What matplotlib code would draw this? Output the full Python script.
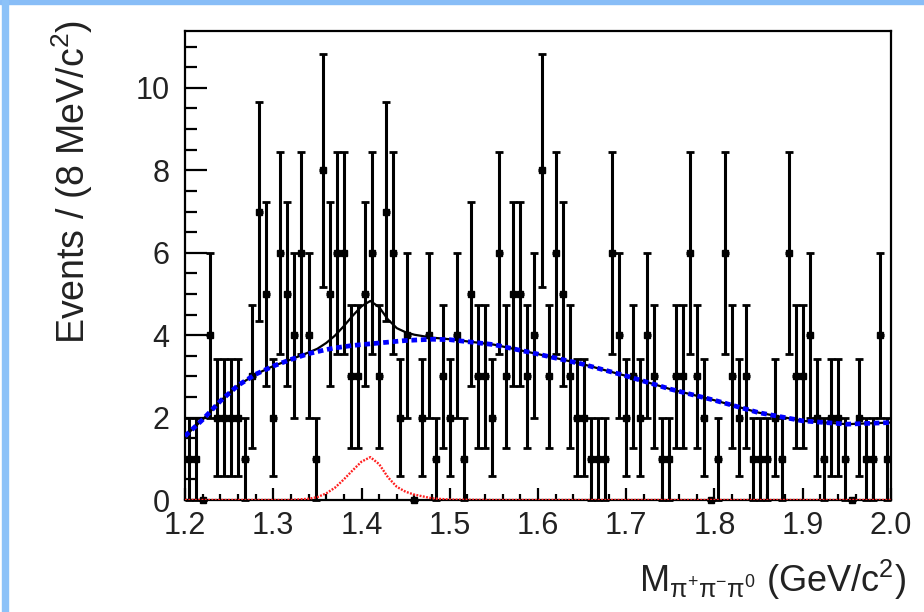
import numpy as np
import matplotlib
matplotlib.use("Agg")
import matplotlib.pyplot as plt
from matplotlib.patches import Rectangle

plt.rcParams["font.family"] = ["Liberation Sans", "DejaVu Sans"]
plt.rcParams["mathtext.fontset"] = "custom"
plt.rcParams["mathtext.rm"] = "Liberation Sans"
plt.rcParams["mathtext.it"] = "Liberation Sans:italic"
plt.rcParams["mathtext.default"] = "regular"

# Histogramme: 100 bins de 8 MeV entre 1.2 et 2.0 GeV
m_min = 1.2
bin_w = 0.008
counts = [
    1, 1, 0, 4, 2, 2, 2, 2, 1, 3,
    7, 5, 2, 6, 5, 4, 6, 4, 1, 8,
    5, 6, 6, 3, 3, 5, 6, 3, 7, 6,
    2, 4, 0, 2, 4, 1, 3, 2, 4, 1,
    5, 3, 3, 2, 6, 3, 5, 5, 3, 4,
    8, 3, 6, 5, 3, 2, 2, 1, 1, 1,
    6, 4, 2, 3, 2, 4, 3, 1, 1, 3,
    3, 6, 3, 2, 0, 1, 6, 3, 2, 3,
    1, 1, 1, 2, 1, 6, 3, 3, 4, 2,
    1, 2, 2, 1, 0, 2, 1, 1, 4, 1,
]

# Courbes de l'ajustement
fit_mass = [1.20, 1.22, 1.24, 1.26, 1.28, 1.30, 1.32, 1.34, 1.35, 1.36,
            1.37, 1.38, 1.39, 1.40, 1.41, 1.42, 1.43, 1.44, 1.45, 1.46,
            1.48, 1.50, 1.55, 1.60, 1.65, 1.70, 1.75, 1.80, 1.85, 1.90,
            1.95, 2.00]
background = [1.55, 1.95, 2.40, 2.78, 3.05, 3.25, 3.41, 3.55, 3.60, 3.65,
              3.69, 3.72, 3.75, 3.77, 3.79, 3.81, 3.83, 3.85, 3.87, 3.88,
              3.90, 3.89, 3.77, 3.54, 3.30, 3.01, 2.69, 2.42, 2.12, 1.92,
              1.84, 1.88]
signal = [0.0, 0.0, 0.0, 0.0, 0.0, 0.0, 0.0, 0.03, 0.07, 0.16,
          0.30, 0.50, 0.72, 0.93, 1.04, 0.87, 0.55, 0.32, 0.20, 0.13,
          0.04, 0.01, 0.0, 0.0, 0.0, 0.0, 0.0, 0.0, 0.0, 0.0,
          0.0, 0.0]

counts = np.array(counts, dtype=float)
centers = m_min + bin_w * (np.arange(len(counts)) + 0.5)
errs = np.sqrt(counts)
total = np.array(background) + np.array(signal)

fig = plt.figure(figsize=(9.24, 6.12), dpi=100)

# bordure bleu clair de la diapo
fig.patches.append(Rectangle((0, 608.5 / 612), 1, 3.5 / 612, transform=fig.transFigure,
                             color="#88bdf7", zorder=0))
fig.patches.append(Rectangle((2 / 924, 0), 6 / 924, 1, transform=fig.transFigure,
                             color="#8cc2f8", zorder=0))

ax = fig.add_axes([185 / 924, 112 / 612, 706 / 924, 469 / 612])

# points avec barres d'erreur
ax.errorbar(centers, counts, xerr=bin_w / 2, fmt="none", ecolor="black",
            elinewidth=2.2, capsize=0, zorder=3)
ax.errorbar(centers, counts, yerr=errs, fmt="s", color="black", ms=4.5,
            elinewidth=2.2, capsize=2.6, capthick=2.0, zorder=3, clip_on=False)

# ajustement
ax.plot(fit_mass, total, color="black", lw=1.6, zorder=4)
ax.plot(fit_mass, background, color="#0000ff", lw=3.4, ls=(0, (1.2, 0.8)), zorder=5)
ax.plot(fit_mass, signal, color="#ff2020", lw=1.7, ls=(0, (0.8, 0.6)), zorder=4)

ax.set_xlim(1.2, 2.0)
ax.set_ylim(0, 11.38)

ax.set_xticks(np.arange(1.2, 2.001, 0.1))
ax.set_xticks(np.arange(1.2, 2.001, 0.02), minor=True)
ax.set_xticklabels(["1.2", "1.3", "1.4", "1.5", "1.6", "1.7", "1.8", "1.9", "2.0"])
ax.set_yticks(np.arange(0, 11, 2))
ax.set_yticks(np.arange(0, 11.3, 0.5), minor=True)

ax.tick_params(axis="y", which="major", direction="in", length=15.6, width=1.6,
               labelsize=22, pad=11, colors="black", labelcolor="#222222")
ax.tick_params(axis="y", which="minor", direction="in", length=8.4, width=1.6)
ax.tick_params(axis="x", which="major", direction="in", length=8.6, width=1.6,
               labelsize=22, pad=8, labelcolor="#222222")
ax.tick_params(axis="x", which="minor", direction="in", length=4.3, width=1.6)

for sp in ax.spines.values():
    sp.set_linewidth(1.6)
    sp.set_color("black")

fig.text(72 / 924, 1 - 20 / 612, "Events / (8 MeV/c$^{2}$)", rotation=90,
         ha="center", va="top", fontsize=27, color="#222222")
fig.text(906 / 924, 1 - 580 / 612,
         r"M$_{\pi^{+}\pi^{-}\pi^{0}}$ (GeV/c$^{2}$)",
         ha="right", va="center", fontsize=26, color="#222222")

fig.savefig("out.png", dpi=100)
